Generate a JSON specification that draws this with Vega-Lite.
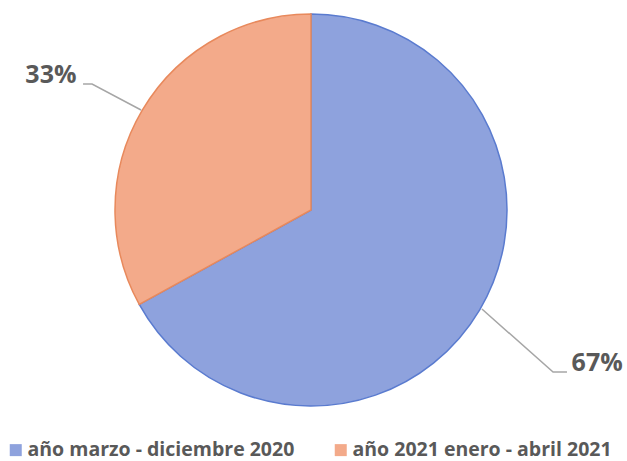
{
  "$schema": "https://vega.github.io/schema/vega-lite/v6.json",
  "width": 627,
  "height": 461,
  "padding": 0,
  "autosize": {"type": "none"},
  "background": "white",
  "config": {"view": {"stroke": null}},
  "datasets": {
    "slices": [
      {"periodo": "año marzo - diciembre 2020", "valor": 67, "cx": 0, "cy": 0},
      {"periodo": "año 2021 enero - abril 2021", "valor": 33, "cx": 0, "cy": 0}
    ],
    "leaders": [
      {"line": "a", "ord": 0, "u": -1.163, "v": 0.643},
      {"line": "a", "ord": 1, "u": -1.117, "v": 0.643},
      {"line": "a", "ord": 2, "u": -0.867, "v": 0.51},
      {"line": "b", "ord": 0, "u": 0.872, "v": -0.505},
      {"line": "b", "ord": 1, "u": 1.235, "v": -0.827},
      {"line": "b", "ord": 2, "u": 1.306, "v": -0.827}
    ],
    "labels": [
      {"txt": "33%", "u": -1.327, "v": 0.689},
      {"txt": "67%", "u": 1.46, "v": -0.781}
    ]
  },
  "layer": [
    {
      "data": {"name": "slices"},
      "mark": {"type": "arc", "radius": 196, "strokeWidth": 1.5},
      "encoding": {
        "x": {"field": "cx", "type": "quantitative", "scale": {"domain": [-1.5867, 1.6122]}, "axis": null},
        "y": {"field": "cy", "type": "quantitative", "scale": {"domain": [-1.2806, 1.0714]}, "axis": null},
        "theta": {"field": "valor", "type": "quantitative", "stack": true},
        "order": {"field": "valor", "sort": "descending"},
        "color": {
          "field": "periodo",
          "type": "nominal",
          "sort": ["año marzo - diciembre 2020", "año 2021 enero - abril 2021"],
          "scale": {"domain": ["año marzo - diciembre 2020", "año 2021 enero - abril 2021"], "range": ["#8ea2dd", "#f3aa8a"]},
          "legend": {
            "title": null,
            "orient": "none",
            "legendX": 6,
            "legendY": 440,
            "direction": "horizontal",
            "symbolType": "square",
            "symbolSize": 144,
            "symbolStrokeWidth": 0,
            "labelFont": "Open Sans",
            "labelFontWeight": "bold",
            "labelFontSize": 19.5,
            "labelLimit": 400,
            "labelColor": "#595959",
            "columnPadding": 36,
            "labelOffset": 2
          }
        },
        "stroke": {
          "field": "periodo",
          "type": "nominal",
          "scale": {"domain": ["año marzo - diciembre 2020", "año 2021 enero - abril 2021"], "range": ["#5a7bcf", "#e8895c"]},
          "legend": null
        }
      }
    },
    {
      "data": {"name": "leaders"},
      "mark": {"type": "line", "color": "#a6a6a6", "strokeWidth": 1.5},
      "encoding": {
        "x": {"field": "u", "type": "quantitative", "scale": {"domain": [-1.5867, 1.6122]}, "axis": null},
        "y": {"field": "v", "type": "quantitative", "scale": {"domain": [-1.2806, 1.0714]}, "axis": null},
        "detail": {"field": "line"},
        "order": {"field": "ord"}
      }
    },
    {
      "data": {"name": "labels"},
      "mark": {"type": "text", "font": "Open Sans", "fontWeight": "bold", "fontSize": 25, "color": "#595959", "align": "center", "baseline": "middle"},
      "encoding": {
        "x": {"field": "u", "type": "quantitative", "scale": {"domain": [-1.5867, 1.6122]}, "axis": null},
        "y": {"field": "v", "type": "quantitative", "scale": {"domain": [-1.2806, 1.0714]}, "axis": null},
        "text": {"field": "txt"}
      }
    }
  ]
}
